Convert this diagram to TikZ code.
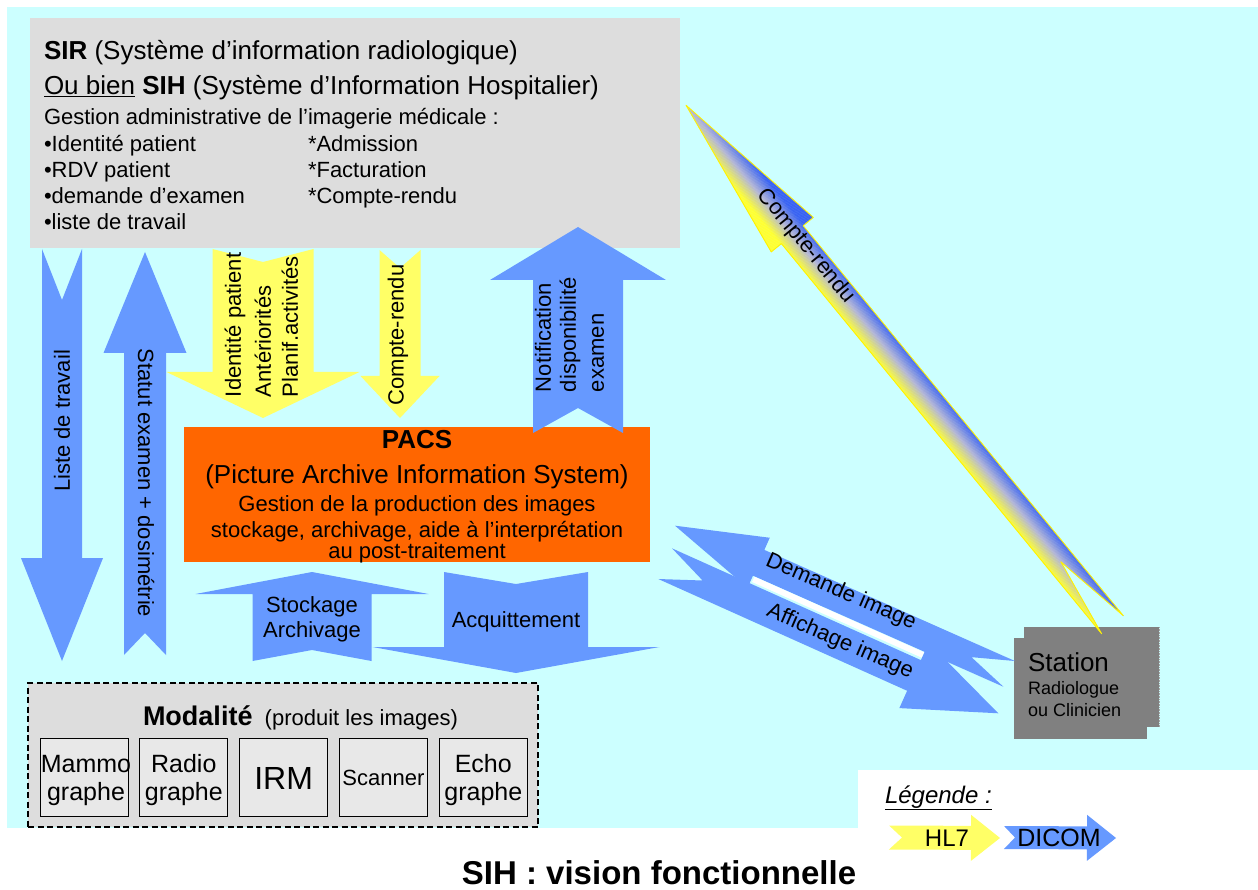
\documentclass[tikz,border=0pt]{standalone}
\usepackage{fontspec}
\setmainfont{Liberation Sans}
\usetikzlibrary{calc}

\definecolor{bgcyan}{HTML}{CCFFFF}
\definecolor{sirgray}{HTML}{DDDDDD}
\definecolor{modgray}{HTML}{E8E8E8}
\definecolor{pacsorange}{HTML}{FF6600}
\definecolor{dicomblue}{HTML}{6699FF}
\definecolor{hlyellow}{HTML}{FFFF66}
\definecolor{stationgray}{HTML}{808080}
\definecolor{grYellow}{HTML}{FFFF33}
\definecolor{grMid}{HTML}{B4B6D6}
\definecolor{grBlue}{HTML}{3A63F2}

% Notched block arrow: name, tail centre, tip, shaft half-width,
% head half-width, head length, notch depth
\newcommand{\setarrow}[7]{%
  \coordinate (#1-t) at #2;
  \coordinate (#1-e) at #3;
  \coordinate (#1-h) at ($(#1-e)!#6!(#1-t)$);
  \coordinate (#1-n) at ($(#1-t)!#7!(#1-e)$);
  \coordinate (#1-1) at ($(#1-t)!#4!90:(#1-e)$);
  \coordinate (#1-2) at ($(#1-h)!#4!90:(#1-e)$);
  \coordinate (#1-3) at ($(#1-h)!#5!90:(#1-e)$);
  \coordinate (#1-4) at ($(#1-h)!#5!-90:(#1-e)$);
  \coordinate (#1-5) at ($(#1-h)!#4!-90:(#1-e)$);
  \coordinate (#1-6) at ($(#1-t)!#4!-90:(#1-e)$);
}
\newcommand{\arrowpath}[1]{(#1-n) -- (#1-1) -- (#1-2) -- (#1-3) -- (#1-e) -- (#1-4) -- (#1-5) -- (#1-6) -- cycle}

\tikzset{
  every node/.style={inner sep=0pt, outer sep=0pt},
  txt/.style={font=\fontsize{22}{26}\selectfont},
  txtbig/.style={font=\fontsize{26}{31}\selectfont},
  hlseven/.style={fill=hlyellow},
  dicomfill/.style={fill=dicomblue},
  modbox/.style={draw=black, line width=0.8pt, fill=modgray, minimum width=88pt, minimum height=78pt},
  modtxt/.style={font=\fontsize{25}{28}\selectfont, align=center},
}

\begin{document}
\begin{tikzpicture}[x=1pt, y=-1pt]
\useasboundingbox (0,0) rectangle (1258,890);
\fill[white] (0,0) rectangle (1258,890);
\fill[bgcyan] (7,7) rectangle (1258,828);
\fill[white] (858,770) rectangle (1258,890);

% ---------- SIR / SIH ----------
\node (sir) [fill=sirgray, anchor=north west, minimum width=650pt, minimum height=230pt] at (30,18) {};
\node[txtbig, anchor=base west] (sirA) at (44,60) {\textbf{SIR} (Système d’information radiologique)};
\node[txtbig, anchor=base west] (sirB) at (44,95) {\underline{Ou bien} \textbf{SIH} (Système d’Information Hospitalier)};
\node[txt, anchor=base west] (sirC) at (44,125) {Gestion administrative de l’imagerie médicale :};
\node[txt, anchor=base west] (sir1) at (44,151.5) {•Identité patient};
\node[txt, anchor=base west] (sir2) at (44,177.5) {•RDV patient};
\node[txt, anchor=base west] (sir3) at (44,203.5) {•demande d’examen};
\node[txt, anchor=base west] (sir4) at (44,229.5) {•liste de travail};
\node[txt, anchor=base west] (sir5) at (308,151.5) {*Admission};
\node[txt, anchor=base west] (sir6) at (308,177.5) {*Facturation};
\node[txt, anchor=base west] (sir7) at (308,203.5) {*Compte-rendu};

% ---------- PACS ----------
\node (pacs) [fill=pacsorange, anchor=north west, minimum width=466pt, minimum height=135pt] at (184,427) {};
\node[anchor=base, font=\bfseries\fontsize{26}{31}\selectfont] (pacsA) at (417,448) {PACS};
\node[txtbig, anchor=base] (pacsB) at (417,483) {(Picture Archive Information System)};
\node[txt, anchor=base] (pacsC) at (417,511) {Gestion de la production des images};
\node[txt, anchor=base] (pacsD) at (417,537) {stockage, archivage, aide à l’interprétation};
\node[txt, anchor=base] (pacsE) at (417,558) {au post-traitement};

% ---------- Station ----------
\fill[stationgray] (1024,627) rectangle (1159,727);
\fill[stationgray] (1014,638) rectangle (1147,739);
\draw[gray!70!white, densely dotted, line width=0.6pt] (1159,627) -- (1159,727);
\node[anchor=base west, font=\fontsize{26}{30}\selectfont] (station) at (1028,671) {Station};
\node[anchor=base west, font=\fontsize{18}{22}\selectfont] (stationB) at (1028,694) {Radiologue};
\node[anchor=base west, font=\fontsize{18}{22}\selectfont] (stationC) at (1028,716) {ou Clinicien};

% ---------- Modalites ----------
\node (moda) [draw=black, dash pattern=on 6pt off 3.5pt, line width=1.8pt, fill=sirgray, anchor=north west, minimum width=510pt, minimum height=144pt] at (28,683) {};
\node[anchor=base west] (modaT) at (143,725) {{\bfseries\fontsize{27}{32}\selectfont Modalité}\fontsize{22}{26}\selectfont\ \ (produit les images)};
\node[modbox] (mammo) at (84.5,777) {};
\node[modbox] (radio) at (183.8,777) {};
\node[modbox] (irm) at (283.6,777) {};
\node[modbox] (scanner) at (383.4,777) {};
\node[modbox] (echo) at (483.3,777) {};
\node[modtxt] at (86,780) {Mammo\\graphe};
\node[modtxt] at (183.8,780) {Radio\\graphe};
\node[font=\fontsize{32}{36}\selectfont] at (283.6,778) {IRM};
\node[font=\fontsize{22}{26}\selectfont] at (383.4,778) {Scanner};
\node[modtxt] at (483.3,780) {Echo\\graphe};

% ---------- Block arrows ----------
\setarrow{lst}{(62,249)}{(62,661)}{20pt}{41pt}{103pt}{51pt}
\setarrow{stat}{(145,655)}{(145,252)}{21pt}{41.5pt}{101pt}{22pt}
\setarrow{idy}{(263,249)}{(263,418)}{50.5pt}{96.5pt}{46pt}{13pt}
\setarrow{crd}{(400,250)}{(400,418)}{20.5pt}{39.5pt}{42pt}{18pt}
\setarrow{notif}{(578,433)}{(578,227)}{45pt}{88pt}{53pt}{25pt}
\setarrow{stk}{(312,661)}{(312,572)}{59.5pt}{116.5pt}{22pt}{11pt}
\setarrow{acq}{(516,572)}{(516,673)}{72pt}{143.5pt}{26pt}{12pt}
\setarrow{dem}{(1009.2,673.9)}{(675,525.7)}{14.1pt}{27.4pt}{91.5pt}{41.3pt}
\setarrow{aff}{(665.2,563.7)}{(998.3,713.3)}{16.8pt}{35.8pt}{92.4pt}{41pt}
\setarrow{cr}{(1112.5,624.75)}{(686,105.2)}{14.1pt}{27.2pt}{167.5pt}{81.5pt}
\setarrow{lh}{(889,837.5)}{(1000,838)}{12pt}{23pt}{29pt}{13pt}
\setarrow{ld}{(1004,837.5)}{(1116,838)}{11.5pt}{23pt}{29pt}{11pt}

\fill[dicomfill] \arrowpath{lst};
\fill[dicomfill] \arrowpath{stat};
\fill[hlseven] \arrowpath{idy};
\fill[hlseven] \arrowpath{crd};
\fill[dicomfill] \arrowpath{notif};
\fill[dicomfill] \arrowpath{stk};
\fill[dicomfill] \arrowpath{acq};
\fill[dicomfill] \arrowpath{dem};
\fill[dicomfill] \arrowpath{aff};
% light gap between the two image arrows
\fill[white] (754.5,576.7) -- (924,652.3) -- (921.6,657.6) -- (752.1,582) -- cycle;

% report arrow with a yellow-to-blue gradient across its width
\begin{scope}
  \clip \arrowpath{cr};
  \begin{scope}[shift={(cr-t)}, rotate=129.4]
    \foreach \i in {0,...,63} {
      \pgfmathsetmacro\bo{-32+\i}
      \pgfmathsetmacro\fr{min(1,max(0,(\bo+15)/30))}
      \pgfmathtruncatemacro\pa{min(100,200*\fr)}
      \pgfmathtruncatemacro\pb{max(0,200*\fr-100)}
      \ifdim\fr pt<0.5pt \colorlet{stripc}{grMid!\pa!grYellow}\else\colorlet{stripc}{grBlue!\pb!grMid}\fi
      \fill[stripc] (-20,\bo) rectangle (700,\bo+1.2);
    }
  \end{scope}
\end{scope}
\draw[yellow, line width=0.9pt, line join=round] \arrowpath{cr};

% ---------- Arrow labels ----------
\node[txt, rotate=90] (tListe) at (62,421) {Liste de travail};
\node[txt, rotate=-90] (tStatut) at (146,483) {Statut examen + dosimétrie};
\node[txt, rotate=90, anchor=west] (tId) at (235,397) {Identité patient};
\node[txt, rotate=90, anchor=west] (tAnt) at (263,397) {Antériorités};
\node[txt, rotate=90, anchor=west] (tPlan) at (290,397) {Planif.activités};
\node[txt, rotate=90] (tCr) at (398,335) {Compte-rendu};
\node[txt, rotate=90, anchor=west] (tN1) at (543,392) {Notification};
\node[txt, rotate=90, anchor=west] (tN2) at (570,392) {disponibilité};
\node[txt, rotate=90, anchor=west] (tN3) at (598,392) {examen};
\node[txt, anchor=base] (tStk1) at (312,612) {Stockage};
\node[txt, anchor=base] (tStk2) at (312,637) {Archivage};
\node[txt, anchor=base] (tAcq) at (516,627) {Acquittement};
\node[txt, rotate=-23.5] (tDem) at (841,592) {Demande image};
\node[txt, rotate=-23.5] (tAff) at (840,642) {Affichage image};
\node[txt, rotate=-50.6] (tCr2) at (806,246) {Compte-rendu};

% ---------- Legend ----------
\node[anchor=base west, font=\itshape\fontsize{24}{28}\selectfont] (leg) at (885,803) {\underline{Légende :}};
\fill[hlseven] \arrowpath{lh};
\fill[dicomfill] \arrowpath{ld};
\node[font=\fontsize{24}{28}\selectfont] (lhT) at (947,838) {HL7};
\node[font=\fontsize{25}{28}\selectfont] (ldT) at (1059,838) {DICOM};

% ---------- Title ----------
\node[anchor=base, font=\bfseries\fontsize{33}{38}\selectfont] (title) at (659,884) {SIH : vision fonctionnelle};
\end{tikzpicture}
\end{document}
